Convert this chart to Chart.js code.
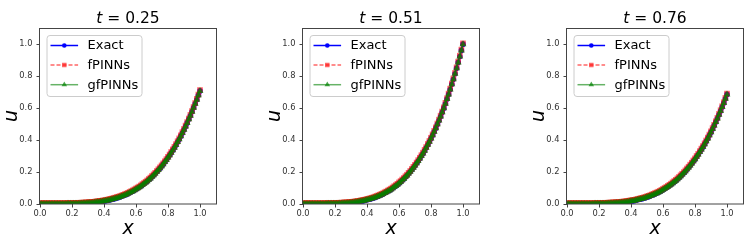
<!DOCTYPE html>
<html><head><meta charset="utf-8">
<script src="https://cdn.jsdelivr.net/npm/chart.js@4.4.1/dist/chart.umd.min.js"></script>
<style>
html,body{margin:0;padding:0;background:#fff;}
body{width:755px;height:243px;position:relative;overflow:hidden;font-family:'DejaVu Sans',sans-serif;}
.box{position:absolute;top:0;width:226px;height:243px;}
.ttl{position:absolute;top:11px;width:200px;text-align:center;font-size:15.5px;line-height:15px;color:#000;white-space:nowrap;font-family:'DejaVu Sans',sans-serif;}
</style></head><body>
<div class="box" style="left:0px"><canvas id="c0" width="226" height="243"></canvas></div>
<div class="box" style="left:263px"><canvas id="c1" width="226" height="243"></canvas></div>
<div class="box" style="left:527px"><canvas id="c2" width="226" height="243"></canvas></div>
<div class="ttl" style="left:28px"><i>t</i> = 0.25</div>
<div class="ttl" style="left:291px"><i>t</i> = 0.51</div>
<div class="ttl" style="left:555px"><i>t</i> = 0.76</div>
<script>
const FONT = "'DejaVu Sans', sans-serif";
const seriesNames = ['Exact', 'fPINNs', 'gfPINNs'];
const titles = ['t = 0.25', 't = 0.51', 't = 0.76'];
const xTicks = [0.0, 0.2, 0.4, 0.6, 0.8, 1.0];
const xTickLabels = ['0.0', '0.2', '0.4', '0.6', '0.8', '1.0'];
const yTicks = [0.0, 0.2, 0.4, 0.6, 0.8, 1.0];
const yTickLabels = ['0.0', '0.2', '0.4', '0.6', '0.8', '1.0'];

const xs = [0.00,0.01,0.02,0.03,0.04,0.05,0.06,0.07,0.08,0.09,
0.10,0.11,0.12,0.13,0.14,0.15,0.16,0.17,0.18,0.19,
0.20,0.21,0.22,0.23,0.24,0.25,0.26,0.27,0.28,0.29,
0.30,0.31,0.32,0.33,0.34,0.35,0.36,0.37,0.38,0.39,
0.40,0.41,0.42,0.43,0.44,0.45,0.46,0.47,0.48,0.49,
0.50,0.51,0.52,0.53,0.54,0.55,0.56,0.57,0.58,0.59,
0.60,0.61,0.62,0.63,0.64,0.65,0.66,0.67,0.68,0.69,
0.70,0.71,0.72,0.73,0.74,0.75,0.76,0.77,0.78,0.79,
0.80,0.81,0.82,0.83,0.84,0.85,0.86,0.87,0.88,0.89,
0.90,0.91,0.92,0.93,0.94,0.95,0.96,0.97,0.98,0.99,1.00];

const exact025 = [0,0,0,0,0,0,0,0,0,0,
0,0,0,0,0,0,0,0.001,0.001,0.001,
0.001,0.001,0.002,0.002,0.002,0.003,0.003,0.004,0.004,0.005,
0.006,0.007,0.007,0.008,0.009,0.011,0.012,0.013,0.015,0.016,
0.018,0.020,0.022,0.024,0.027,0.029,0.032,0.035,0.038,0.041,
0.044,0.048,0.052,0.056,0.060,0.065,0.070,0.075,0.080,0.086,
0.092,0.098,0.104,0.111,0.119,0.126,0.134,0.142,0.151,0.160,
0.170,0.180,0.190,0.201,0.212,0.224,0.236,0.249,0.262,0.275,
0.290,0.304,0.320,0.336,0.352,0.369,0.387,0.405,0.424,0.444,
0.464,0.485,0.507,0.529,0.552,0.576,0.601,0.626,0.652,0.679,0.707];
const fpinn025 = [0.005,0.005,0.005,0.005,0.005,0.005,0.005,0.005,0.005,0.005,
0.005,0.005,0.005,0.005,0.005,0.005,0.005,0.006,0.006,0.006,
0.006,0.006,0.007,0.007,0.007,0.008,0.008,0.009,0.009,0.010,
0.011,0.012,0.012,0.013,0.014,0.016,0.017,0.018,0.020,0.021,
0.023,0.025,0.027,0.029,0.032,0.034,0.037,0.040,0.043,0.046,
0.049,0.053,0.057,0.061,0.065,0.070,0.075,0.080,0.085,0.091,
0.097,0.103,0.109,0.116,0.124,0.131,0.139,0.147,0.156,0.165,
0.175,0.185,0.195,0.206,0.217,0.229,0.241,0.254,0.267,0.280,
0.295,0.309,0.325,0.341,0.357,0.374,0.392,0.410,0.429,0.449,
0.469,0.490,0.512,0.534,0.557,0.581,0.606,0.631,0.657,0.684,0.712];
const gfpinn025 = exact025;

const exact051 = [0,0,0,0,0,0,0,0,0,0,
0,0,0,0,0,0.001,0.001,0.001,0.001,0.001,
0.002,0.002,0.002,0.003,0.003,0.004,0.005,0.005,0.006,0.007,
0.008,0.009,0.010,0.012,0.013,0.015,0.017,0.019,0.021,0.023,
0.026,0.028,0.031,0.034,0.037,0.041,0.045,0.049,0.053,0.058,
0.062,0.068,0.073,0.079,0.085,0.091,0.098,0.106,0.113,0.121,
0.130,0.138,0.148,0.157,0.168,0.178,0.190,0.201,0.214,0.227,
0.240,0.254,0.269,0.284,0.300,0.316,0.333,0.351,0.370,0.389,
0.409,0.430,0.452,0.474,0.498,0.522,0.547,0.573,0.599,0.627,
0.656,0.685,0.716,0.748,0.780,0.814,0.849,0.885,0.922,0.960,0.999];
const fpinn051 = [0.005,0.005,0.005,0.005,0.005,0.005,0.005,0.005,0.005,0.005,
0.005,0.005,0.005,0.005,0.005,0.006,0.006,0.006,0.006,0.006,
0.007,0.007,0.007,0.008,0.008,0.009,0.010,0.010,0.011,0.012,
0.013,0.014,0.015,0.017,0.018,0.020,0.022,0.024,0.026,0.028,
0.031,0.033,0.036,0.039,0.042,0.046,0.050,0.054,0.058,0.063,
0.067,0.073,0.078,0.084,0.090,0.096,0.103,0.111,0.118,0.126,
0.135,0.143,0.153,0.162,0.173,0.183,0.195,0.206,0.219,0.232,
0.245,0.259,0.274,0.289,0.305,0.321,0.338,0.356,0.375,0.394,
0.414,0.435,0.457,0.479,0.503,0.527,0.552,0.578,0.604,0.632,
0.661,0.690,0.721,0.753,0.785,0.819,0.854,0.890,0.927,0.965,1.004];
const gfpinn051 = exact051;

const exact076 = [0,0,0,0,0,0,0,0,0,0,
0,0,0,0,0,0,0,0.001,0.001,0.001,
0.001,0.001,0.002,0.002,0.002,0.003,0.003,0.004,0.004,0.005,
0.006,0.006,0.007,0.008,0.009,0.010,0.011,0.013,0.014,0.016,
0.018,0.019,0.021,0.023,0.026,0.028,0.031,0.033,0.036,0.039,
0.043,0.046,0.050,0.054,0.058,0.063,0.067,0.072,0.077,0.083,
0.089,0.095,0.101,0.108,0.115,0.122,0.130,0.138,0.146,0.155,
0.164,0.174,0.184,0.194,0.205,0.217,0.228,0.241,0.253,0.267,
0.280,0.295,0.309,0.325,0.341,0.357,0.374,0.392,0.410,0.429,
0.449,0.469,0.490,0.512,0.534,0.558,0.581,0.606,0.631,0.658,0.685];
const fpinn076 = [0.005,0.005,0.005,0.005,0.005,0.005,0.005,0.005,0.005,0.005,
0.005,0.005,0.005,0.005,0.005,0.005,0.005,0.006,0.006,0.006,
0.006,0.006,0.007,0.007,0.007,0.008,0.008,0.009,0.009,0.010,
0.011,0.011,0.012,0.013,0.014,0.015,0.016,0.018,0.019,0.021,
0.023,0.024,0.026,0.028,0.031,0.033,0.036,0.038,0.041,0.044,
0.048,0.051,0.055,0.059,0.063,0.068,0.072,0.077,0.082,0.088,
0.094,0.100,0.106,0.113,0.120,0.127,0.135,0.143,0.151,0.160,
0.169,0.179,0.189,0.199,0.210,0.222,0.233,0.246,0.258,0.272,
0.285,0.300,0.314,0.330,0.346,0.362,0.379,0.397,0.415,0.434,
0.454,0.474,0.495,0.517,0.539,0.563,0.586,0.611,0.636,0.663,0.690];
const gfpinn076 = exact076;

const framePlugin = {
  id: 'frame',
  afterDatasetsDraw(chart) {
    const ctx = chart.ctx, a = chart.chartArea;
    ctx.save();
    ctx.strokeStyle = '#444';
    ctx.lineWidth = 1;
    ctx.strokeRect(Math.round(a.left) - 0.5, Math.round(a.top) + 0.5, Math.round(a.right - a.left) + 1, Math.round(a.bottom - a.top) - 0.5);
    ctx.restore();
  }
};

function drawMarker(ctx, style, x, y, r) {
  ctx.beginPath();
  if (style === 'circle') {
    ctx.arc(x, y, r, 0, Math.PI * 2);
  } else if (style === 'rect') {
    const s = r * Math.SQRT1_2;
    ctx.rect(x - s, y - s, 2 * s, 2 * s);
  } else {
    const w = r * Math.sqrt(3) / 2;
    ctx.moveTo(x, y - r);
    ctx.lineTo(x + w, y + r / 2);
    ctx.lineTo(x - w, y + r / 2);
    ctx.closePath();
  }
  ctx.fill();
}

const legendPlugin = {
  id: 'mlLegend',
  afterDatasetsDraw(chart) {
    const ctx = chart.ctx, a = chart.chartArea;
    const bx = a.left + 6.5, by = a.top + 7, bw = 95, bh = 61;
    ctx.save();
    ctx.beginPath();
    ctx.roundRect(bx + 0.5, by + 0.5, bw, bh, 3);
    ctx.fillStyle = 'rgba(255,255,255,0.8)';
    ctx.fill();
    ctx.strokeStyle = '#cccccc';
    ctx.lineWidth = 1;
    ctx.stroke();
    const rows = [10.5, 30, 49.7];
    const legR = [2.3, 3.2, 3.2];
    chart.data.datasets.forEach((ds, i) => {
      const y = by + rows[i];
      ctx.strokeStyle = ds.borderColor;
      ctx.lineWidth = ds.borderWidth;
      ctx.setLineDash(ds.borderDash || []);
      ctx.beginPath();
      ctx.moveTo(bx + 4, y);
      ctx.lineTo(bx + 31.6, y);
      ctx.stroke();
      ctx.setLineDash([]);
      ctx.fillStyle = ds.pointBackgroundColor;
      drawMarker(ctx, ds.pointStyle, bx + 17.8, y, legR[i]);
      ctx.fillStyle = '#000';
      ctx.font = '13px ' + FONT;
      ctx.textBaseline = 'middle';
      ctx.textAlign = 'left';
      ctx.fillText(ds.label, bx + 41, y + 0.5);
    });
    ctx.restore();
  }
};

function pts(ys) { return xs.map((x, i) => ({ x: x, y: ys[i] })); }

function makeChart(id, ex, fp, gf) {
  return new Chart(document.getElementById(id), {
    type: 'line',
    data: {
      datasets: [
        { label: seriesNames[0], data: pts(ex), borderColor: '#0000ff', backgroundColor: '#0000ff',
          pointBackgroundColor: '#0000ff', borderWidth: 1.5, pointStyle: 'circle', pointRadius: 2.8,
          pointBorderWidth: 0, order: 3 },
        { label: seriesNames[1], data: pts(fp), borderColor: 'rgba(255,0,0,0.6)', backgroundColor: 'rgba(255,0,0,0.6)',
          pointBackgroundColor: 'rgba(255,0,0,0.6)', borderWidth: 1.5, borderDash: [4, 2], pointStyle: 'rect',
          pointRadius: 4, pointBorderWidth: 0, order: 2 },
        { label: seriesNames[2], data: pts(gf), borderColor: 'rgba(0,128,0,0.6)', backgroundColor: 'rgba(0,128,0,0.6)',
          pointBackgroundColor: 'rgba(0,128,0,0.7)', borderWidth: 1.5, pointStyle: 'triangle', pointRadius: 4,
          pointBorderWidth: 0, order: 1 }
      ]
    },
    options: {
      responsive: false,
      animation: false,
      events: [],
      layout: { padding: { left: 0, right: 10, top: 28, bottom: 0 } },
      plugins: { legend: { display: false }, tooltip: { enabled: false } },
      scales: {
        x: {
          type: 'linear', min: 0, max: 1.1,
          afterBuildTicks(s) { s.ticks = xTicks.map(v => ({ value: v })); },
          afterFit(s) { s.height = 39; },
          ticks: { callback: (v, i) => xTickLabels[i], font: { size: 8.3, family: FONT }, color: '#333',
                   padding: 1, maxRotation: 0, autoSkip: false },
          grid: { drawOnChartArea: false, drawTicks: true, tickLength: 3.5, tickColor: '#444' },
          border: { display: false },
          title: { display: true, text: 'x', font: { size: 19, style: 'italic', family: FONT }, color: '#000',
                   padding: { top: 0, bottom: 3 } }
        },
        y: {
          type: 'linear', min: 0, max: 1.1,
          afterBuildTicks(s) { s.ticks = yTicks.map(v => ({ value: v })); },
          afterFit(s) { s.width = 40; },
          ticks: { callback: (v, i) => yTickLabels[i], font: { size: 8.3, family: FONT }, color: '#333',
                   padding: 4, autoSkip: false },
          grid: { drawOnChartArea: false, drawTicks: true, tickLength: 3.5, tickColor: '#444' },
          border: { display: false },
          title: { display: true, text: 'u', font: { size: 19, style: 'italic', family: FONT }, color: '#000',
                   padding: { top: 1, bottom: 0 } }
        }
      }
    },
    plugins: [framePlugin, legendPlugin]
  });
}

makeChart('c0', exact025, fpinn025, gfpinn025);
makeChart('c1', exact051, fpinn051, gfpinn051);
makeChart('c2', exact076, fpinn076, gfpinn076);
</script>
</body></html>
